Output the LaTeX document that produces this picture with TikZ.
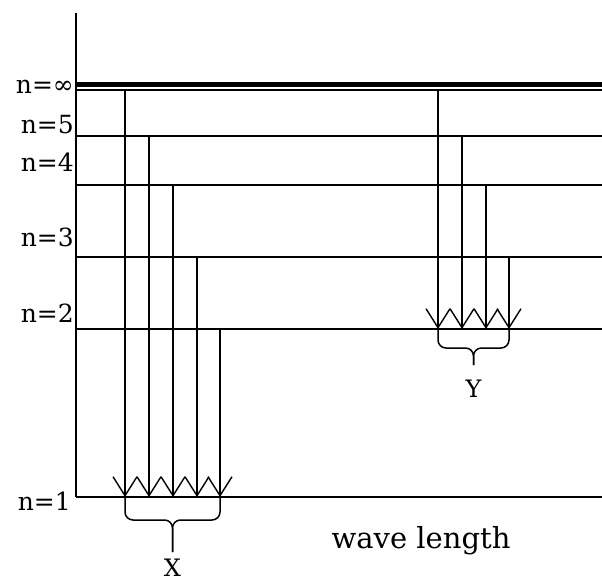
\documentclass[tikz,border=0pt]{standalone}
\usepackage{fontspec}
\setmainfont{DejaVu Serif}
\usetikzlibrary{arrows.meta}
\begin{document}
\begin{tikzpicture}[x=1pt,y=-1pt,
  level/.style={line width=1.2pt},
  trans/.style={line width=1.8pt,-{Straight Barb[length=19pt,width=24pt,line width=1.4pt]}},
  lab/.style={anchor=base east,inner sep=0pt,font=\fontsize{25}{28}\selectfont},
  brc/.style={line width=1.5pt,rounded corners=8pt}]
\useasboundingbox (0,0) rectangle (602,585);

\coordinate (T) at (76,13);
\coordinate (R) at (602,0);
\coordinate (Ltop) at (76,84.5);
\coordinate (Linf) at (76,90);
\coordinate (L5) at (76,136);
\coordinate (L4) at (76,185);
\coordinate (L3) at (76,257);
\coordinate (L2) at (76,329);
\coordinate (L1) at (76,497);

% axis and levels
\draw[line width=1.8pt] (T) -- (L1);
\draw[line width=5pt] (Ltop) -- (Ltop -| R);
\foreach \l in {Linf,L5,L4,L3,L2,L1}
  \draw[level] (\l) -- (\l -| R);

\node[lab] (ninf) at (74,94) {n=∞};
\node[lab] (n5) at (74,134) {n=5};
\node[lab] (n4) at (74,172) {n=4};
\node[lab] (n3) at (74,247) {n=3};
\node[lab] (n2) at (74,322) {n=2};
\node[lab] (n1) at (71,510) {n=1};

% transitions to n=1
\foreach \i/\x in {1/125,2/149,3/173,4/197,5/220}
  \coordinate (X\i) at (\x,0);
\foreach \c/\s in {X1/Linf,X2/L5,X3/L4,X4/L3,X5/L2}
  \draw[trans] (\c |- \s) -- (\c |- L1);

% transitions to n=2
\foreach \i/\x in {1/438,2/462,3/486,4/509}
  \coordinate (Y\i) at (\x,0);
\foreach \c/\s in {Y1/Linf,Y2/L5,Y3/L4,Y4/L3}
  \draw[trans] (\c |- \s) -- (\c |- L2);

% braces
\coordinate (XB) at (172.5,552);
\draw[brc] (X1 |- L1) -- ++(0,23) -| (XB);
\draw[brc] (X5 |- L1) -- ++(0,23) -| (XB);
\node[anchor=base,inner sep=0pt,font=\fontsize{24}{28}\selectfont] (xlab) at (172.5,576) {X};

\coordinate (YB) at (473.5,365);
\draw[brc] (Y1 |- L2) -- ++(0,19) -| (YB);
\draw[brc] (Y4 |- L2) -- ++(0,19) -| (YB);
\node[anchor=base,inner sep=0pt,font=\fontsize{24}{28}\selectfont] (ylab) at (473.5,397) {Y};

\node[anchor=base,font=\fontsize{29}{34}\selectfont] (wl) at (421,548) {wave length};
\end{tikzpicture}
\end{document}
